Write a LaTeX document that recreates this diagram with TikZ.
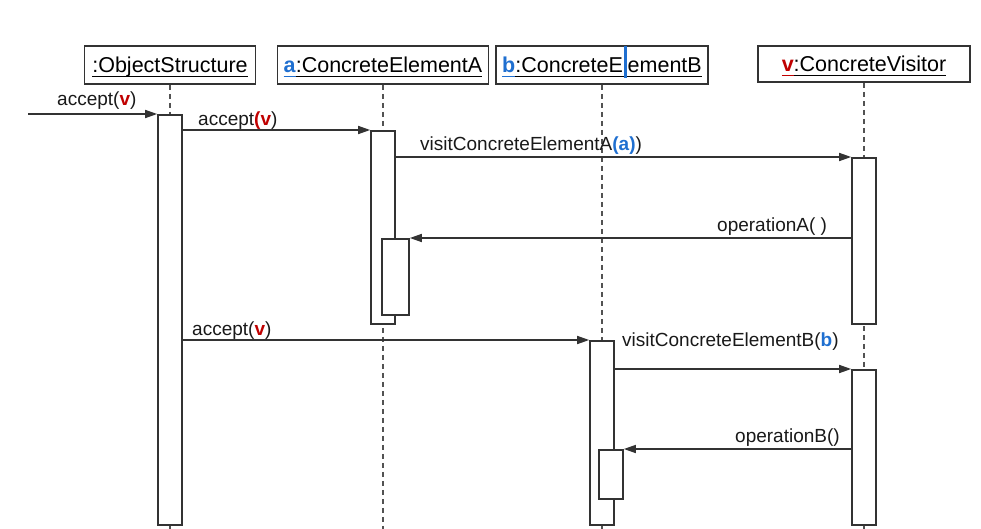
\documentclass[tikz,border=0pt]{standalone}
\usepackage{fontspec}
\setmainfont{Liberation Sans}
\usetikzlibrary{arrows.meta,calc}
\definecolor{cred}{HTML}{C00000}
\definecolor{cblue}{HTML}{1F6FD0}
\definecolor{lc}{HTML}{333333}
\newsavebox\ulbox
\newcommand\ulx[1]{\sbox\ulbox{#1}\rlap{\rule[-4.5pt]{\wd\ulbox}{1.5pt}}\usebox\ulbox}
\newcommand\rv{\textcolor{cred}{\textbf{v}}}
\newcommand\cursorbar{\makebox[0.222em]{\textcolor{cblue}{\rule[-5pt]{2.5pt}{32pt}}}}
\tikzset{
  hdr/.style={draw=lc, line width=1.6pt, fill=white, minimum height=38pt, inner sep=0pt,
    text height=18pt, text depth=2pt, font=\fontsize{21.5}{26}\selectfont},
  life/.style={draw=lc!85, line width=1.5pt, dash pattern=on 5pt off 4pt},
  act/.style={draw=lc, line width=1.6pt, fill=white, minimum width=24pt, inner sep=0pt, anchor=north},
  msg/.style={draw=lc, line width=1.5pt, -{Triangle[length=12pt,width=8pt]}},
  lbl/.style={inner sep=0pt, anchor=base west, font=\fontsize{19}{22}\selectfont, text=black!90}
}
\begin{document}
\begin{tikzpicture}[x=1pt,y=-1pt]
\useasboundingbox (0,0) rectangle (981,529);
% headers
\node[hdr, minimum width=171pt] (os) at (170,65) {\ulx{:ObjectStructure}};
\node[hdr, minimum width=211pt] (ea) at (383,65) {\textcolor{cblue}{\ulx{\textbf{a}}}\ulx{:ConcreteElementA}};
\node[hdr, minimum width=212pt] (eb) at (602,65) {\textcolor{cblue}{\ulx{\textbf{b}}}\ulx{:ConcreteE\cursorbar ementB}};
\node[hdr, minimum width=212pt, minimum height=36pt] (cv) at (864,64) {\textcolor{cred}{\ulx{\textbf{v}}}\ulx{:ConcreteVisitor}};
% lifeline ends
\coordinate (osEnd) at (170,529);
\coordinate (eaEnd) at (383,529);
\coordinate (ebEnd) at (602,529);
\coordinate (cvEnd) at (864,529);
\draw[life] (os.south) -- (osEnd);
\draw[life] (ea.south) -- (eaEnd);
\draw[life] (eb.south) -- (ebEnd);
\draw[life] (cv.south) -- (cvEnd);
% activations
\node[act, minimum height=410pt] (osA) at (170,114) {};
\node[act, minimum height=193pt] (aA) at (383,130) {};
\node[act, minimum height=76pt, minimum width=27pt] (aN) at (395.5,238) {};
\node[act, minimum height=166pt] (vA1) at (864,157) {};
\node[act, minimum height=184pt] (bA) at (602,340) {};
\node[act, minimum height=49pt] (bN) at (611,449) {};
\node[act, minimum height=155pt] (vA2) at (864,369) {};
% messages
\coordinate (start) at (28,114);
\draw[msg] (start) -- (osA.north west);
\node[lbl] (l1) at (57,106) {accept(\rv)};
\draw[msg] (osA.east |- aA.north) -- (aA.north west);
\node[lbl] (l2) at (198,126) {accept\textcolor{cred}{\textbf{(v}})};
\draw[msg] (aA.east |- vA1.north) -- (vA1.north west);
\node[lbl] (l3) at (420,151) {visitConcreteElementA\textcolor{cblue}{\textbf{(a)}})};
\draw[msg] (vA1.west |- aN.north) -- (aN.north east);
\node[lbl] (l4) at (717,232) {operationA( )};
\draw[msg] (osA.east |- bA.north) -- (bA.north west);
\node[lbl] (l5) at (192,335) {accept(\rv)};
\draw[msg] (bA.east |- vA2.north) -- (vA2.north west);
\node[lbl] (l6) at (622,346) {visitConcreteElementB(\textcolor{cblue}{\textbf{b}})};
\draw[msg] (vA2.west |- bN.north) -- (bN.north east);
\node[lbl] (l7) at (735,442) {operationB()};
\end{tikzpicture}
\end{document}
